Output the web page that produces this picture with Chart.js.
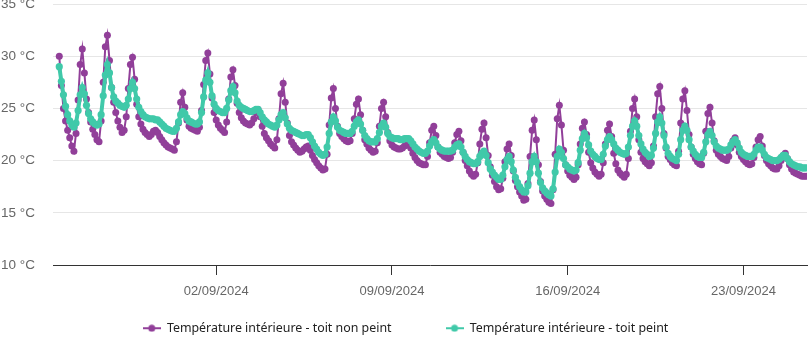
<!DOCTYPE html>
<html lang="fr">
<head>
<meta charset="utf-8">
<title>Températures intérieures</title>
<script src="https://cdn.jsdelivr.net/npm/chart.js@4"></script>
<style>
  html, body { margin: 0; padding: 0; background: #fff; }
  #wrap { width: 811px; height: 343px; position: relative; }
</style>
</head>
<body>
<div id="wrap"><canvas id="chart"></canvas></div>
<script>
// Relevés toutes les 2 heures, à partir du 26/08/2024 à 18h
const debut = Date.UTC(2024, 7, 26, 18);
const pasHeures = 2;

const toitNonPeint = [
  // 26/08 (18h-22h)
  30.0, 27.2, 25.0,
  // 27/08
  23.8, 22.9, 22.2, 21.4, 20.9, 22.6, 25.8, 29.2, 30.7, 28.4, 25.9, 24.6,
  // 28/08
  23.7, 23.0, 22.5, 22.0, 21.8, 23.8, 27.5, 30.9, 32.0, 29.6, 27.0, 25.6,
  // 29/08
  24.6, 23.8, 23.2, 22.7, 22.9, 24.2, 26.9, 29.2, 29.9, 27.8, 25.4, 24.2,
  // 30/08
  23.5, 23.0, 22.7, 22.5, 22.3, 22.5, 22.8, 22.9, 22.7, 22.3, 22.0, 21.7,
  // 31/08
  21.5, 21.3, 21.2, 21.1, 21.0, 21.8, 23.6, 25.6, 26.5, 25.1, 23.9, 23.3,
  // 01/09
  23.1, 23.0, 22.9, 22.8, 23.2, 24.8, 27.3, 29.6, 30.3, 28.3, 26.0, 24.6,
  // 02/09
  23.9, 23.4, 23.1, 22.9, 22.7, 23.7, 25.9, 28.0, 28.7, 27.2, 25.5, 24.6,
  // 03/09
  24.1, 23.8, 23.6, 23.5, 23.4, 23.6, 24.0, 24.6, 24.9, 24.2, 23.3, 22.6,
  // 04/09
  22.2, 21.9, 21.6, 21.4, 21.2, 22.0, 24.0, 26.4, 27.4, 25.6, 23.6, 22.4,
  // 05/09
  21.8, 21.5, 21.2, 21.0, 20.8, 20.9, 21.1, 21.3, 21.4, 21.0, 20.5, 20.1,
  // 06/09
  19.8, 19.5, 19.3, 19.1, 19.2, 20.6, 23.4, 26.0, 26.9, 25.0, 23.3, 22.6,
  // 07/09
  22.3, 22.1, 21.9, 21.8, 21.9, 22.6, 24.0, 25.4, 25.9, 24.4, 22.9, 22.0,
  // 08/09
  21.6, 21.2, 21.0, 20.8, 20.9, 21.7, 23.3, 25.0, 25.6, 24.2, 22.7, 21.9,
  // 09/09
  21.5, 21.3, 21.2, 21.1, 21.1, 21.2, 21.4, 21.5, 21.5, 21.2, 20.7, 20.3,
  // 10/09
  20.0, 19.8, 19.7, 19.6, 19.6, 20.4, 21.7, 22.9, 23.3, 22.4, 21.3, 20.8,
  // 11/09
  20.6, 20.4, 20.3, 20.2, 20.3, 20.8, 21.7, 22.5, 22.8, 21.9, 20.8, 20.0,
  // 12/09
  19.5, 19.0, 18.7, 18.5, 18.7, 19.8, 21.6, 23.0, 23.6, 22.2, 20.5, 19.4,
  // 13/09
  18.6, 18.0, 17.5, 17.2, 17.3, 18.3, 19.9, 21.1, 21.6, 20.5, 19.0, 18.1,
  // 14/09
  17.5, 17.0, 16.6, 16.2, 16.3, 17.8, 20.4, 22.9, 23.9, 22.0, 19.6, 18.0,
  // 15/09
  17.1, 16.6, 16.3, 16.0, 15.9, 17.2, 20.6, 24.0, 25.3, 23.4, 21.0, 19.6,
  // 16/09
  19.0, 18.6, 18.4, 18.2, 18.4, 19.6, 21.6, 23.1, 23.7, 22.5, 20.8, 19.8,
  // 17/09
  19.3, 18.9, 18.7, 18.5, 18.7, 19.8, 21.6, 22.9, 23.5, 22.3, 20.7, 19.7,
  // 18/09
  19.1, 18.8, 18.6, 18.4, 18.7, 20.2, 22.8, 25.0, 25.9, 24.2, 22.0, 20.8,
  // 19/09
  20.2, 19.9, 19.7, 19.5, 19.8, 21.4, 24.2, 26.4, 27.1, 25.0, 22.6, 21.2,
  // 20/09
  20.4, 20.1, 19.8, 19.6, 19.5, 20.9, 23.6, 25.9, 26.7, 24.8, 22.5, 21.3,
  // 21/09
  20.6, 20.2, 19.9, 19.7, 19.6, 20.7, 22.8, 24.5, 25.1, 23.6, 21.9, 21.0,
  // 22/09
  20.6, 20.4, 20.2, 20.1, 20.0, 20.4, 21.2, 21.9, 22.2, 21.5, 20.8, 20.4,
  // 23/09
  20.1, 19.9, 19.7, 19.6, 19.7, 20.3, 21.3, 22.0, 22.3, 21.4, 20.5, 20.0,
  // 24/09
  19.7, 19.5, 19.3, 19.2, 19.2, 19.5, 20.0, 20.5, 20.7, 20.2, 19.6, 19.2,
  // 25/09 (0h-12h)
  18.9, 18.8, 18.7, 18.6, 18.5, 18.5, 18.5
];

const toitPeint = [
  // 26/08 (18h-22h)
  29.0, 27.6, 26.3,
  // 27/08
  25.2, 24.4, 23.8, 23.4, 23.2, 23.6, 24.8, 26.3, 27.0, 26.4, 25.3, 24.5,
  // 28/08
  24.0, 23.7, 23.5, 23.4, 23.5, 24.4, 26.2, 28.2, 29.2, 28.4, 27.0, 26.1,
  // 29/08
  25.7, 25.5, 25.3, 25.2, 25.1, 25.3, 25.9, 26.9, 27.5, 26.9, 25.9, 25.1,
  // 30/08
  24.7, 24.4, 24.2, 24.1, 24.0, 24.0, 24.0, 23.9, 23.9, 23.7, 23.5, 23.3,
  // 31/08
  23.1, 23.0, 22.9, 22.8, 22.8, 23.1, 23.7, 24.4, 24.7, 24.5, 24.1, 23.8,
  // 01/09
  23.7, 23.6, 23.5, 23.5, 23.7, 24.6, 26.1, 27.7, 28.4, 27.5, 26.2, 25.4,
  // 02/09
  25.0, 24.8, 24.7, 24.6, 24.6, 25.0, 25.8, 26.7, 27.1, 26.5, 25.7, 25.3,
  // 03/09
  25.1, 25.0, 24.9, 24.8, 24.7, 24.7, 24.8, 24.9, 24.9, 24.6, 24.2, 23.9,
  // 04/09
  23.7, 23.5, 23.4, 23.3, 23.2, 23.4, 23.9, 24.4, 24.6, 24.1, 23.5, 23.1,
  // 05/09
  22.9, 22.8, 22.7, 22.6, 22.5, 22.4, 22.4, 22.5, 22.5, 22.2, 21.8, 21.4,
  // 06/09
  21.1, 20.8, 20.6, 20.5, 20.6, 21.3, 22.6, 23.7, 24.2, 23.8, 23.2, 22.9,
  // 07/09
  22.8, 22.7, 22.6, 22.6, 22.6, 22.8, 23.3, 23.7, 23.9, 23.5, 22.9, 22.4,
  // 08/09
  22.1, 21.9, 21.8, 21.8, 21.8, 22.1, 22.7, 23.3, 23.6, 23.2, 22.6, 22.3,
  // 09/09
  22.2, 22.1, 22.1, 22.1, 22.0, 22.0, 22.1, 22.1, 22.1, 21.9, 21.6, 21.3,
  // 10/09
  21.1, 20.9, 20.8, 20.7, 20.7, 20.9, 21.4, 21.8, 22.0, 21.7, 21.3, 21.1,
  // 11/09
  21.0, 20.9, 20.9, 20.9, 20.9, 21.0, 21.3, 21.5, 21.6, 21.3, 20.8, 20.4,
  // 12/09
  20.1, 19.9, 19.8, 19.7, 19.7, 19.9, 20.4, 20.7, 20.9, 20.5, 19.8, 19.2,
  // 13/09
  18.9, 18.6, 18.4, 18.2, 18.2, 18.6, 19.4, 20.1, 20.4, 19.9, 19.1, 18.4,
  // 14/09
  17.9, 17.5, 17.2, 17.0, 17.0, 17.6, 18.8, 19.9, 20.4, 19.9, 18.8, 17.9,
  // 15/09
  17.4, 17.1, 16.9, 16.7, 16.6, 17.3, 18.9, 20.4, 21.1, 20.8, 20.2, 19.6,
  // 16/09
  19.4, 19.2, 19.1, 19.0, 19.1, 19.8, 21.0, 22.1, 22.6, 22.2, 21.5, 20.9,
  // 17/09
  20.6, 20.4, 20.2, 20.1, 20.1, 20.6, 21.4, 22.0, 22.3, 22.0, 21.6, 21.2,
  // 18/09
  21.0, 20.8, 20.7, 20.6, 20.7, 21.3, 22.4, 23.3, 23.8, 23.3, 22.4, 21.6,
  // 19/09
  21.1, 20.8, 20.6, 20.4, 20.5, 21.2, 22.6, 23.7, 24.2, 23.6, 22.4, 21.3,
  // 20/09
  20.7, 20.4, 20.2, 20.1, 20.0, 20.6, 22.0, 22.9, 23.3, 22.9, 22.0, 21.3,
  // 21/09
  20.9, 20.6, 20.4, 20.3, 20.3, 20.8, 21.8, 22.5, 22.8, 22.4, 21.8, 21.4,
  // 22/09
  21.2, 21.1, 21.0, 21.0, 21.0, 21.1, 21.5, 21.8, 22.0, 21.7, 21.2, 20.8,
  // 23/09
  20.6, 20.5, 20.4, 20.4, 20.4, 20.6, 21.0, 21.3, 21.3, 21.0, 20.6, 20.3,
  // 24/09
  20.2, 20.1, 20.0, 20.0, 20.0, 20.1, 20.3, 20.5, 20.5, 20.2, 19.9, 19.7,
  // 25/09 (0h-12h)
  19.6, 19.5, 19.4, 19.4, 19.3, 19.3, 19.3
];

const datesGraduations = ['2024-09-02', '2024-09-09', '2024-09-16', '2024-09-23'];
const graduationsY = [10, 15, 20, 25, 30, 35];

const violet = '#913f99';
const turquoise = '#40c9a9';

function enPoints(valeurs) {
  return valeurs.map((v, i) => ({ x: debut + i * pasHeures * 3600000, y: v }));
}

function formatDate(ms) {
  const d = new Date(ms);
  const jj = String(d.getUTCDate()).padStart(2, '0');
  const mm = String(d.getUTCMonth() + 1).padStart(2, '0');
  return jj + '/' + mm + '/' + d.getUTCFullYear();
}

// petit symbole trait + rond pour la légende
function marqueur(couleur) {
  const c = document.createElement('canvas');
  c.width = 18;
  c.height = 8;
  const g = c.getContext('2d');
  g.strokeStyle = couleur;
  g.lineWidth = 2;
  g.beginPath();
  g.moveTo(0, 4);
  g.lineTo(18, 4);
  g.stroke();
  g.fillStyle = couleur;
  g.beginPath();
  g.arc(9, 4, 3.5, 0, Math.PI * 2);
  g.fill();
  return c;
}

// la légende garde un grand écart entre les deux entrées,
// mais sa ligne reste collée au bas du canvas
const legendeEnBas = {
  id: 'legendeEnBas',
  afterLayout(chart) {
    const lg = chart.legend;
    lg.top = chart.height - 21 - lg.options.labels.padding;
  }
};

Chart.defaults.font.family = '"Liberation Sans", Arial, sans-serif';
Chart.defaults.color = '#666';

new Chart(document.getElementById('chart'), {
  type: 'line',
  data: {
    datasets: [
      {
        label: 'Température intérieure - toit non peint',
        data: enPoints(toitNonPeint),
        borderColor: violet,
        backgroundColor: violet,
        borderWidth: 2,
        pointRadius: 3.5,
        pointBorderWidth: 0,
        order: 1
      },
      {
        label: 'Température intérieure - toit peint',
        data: enPoints(toitPeint),
        borderColor: turquoise,
        backgroundColor: turquoise,
        borderWidth: 4,
        pointRadius: 3.6,
        pointBorderWidth: 0,
        order: 0
      }
    ]
  },
  plugins: [legendeEnBas],
  options: {
    responsive: true,
    maintainAspectRatio: false,
    animation: false,
    layout: { padding: 0 },
    scales: {
      x: {
        type: 'linear',
        min: Date.UTC(2024, 7, 26, 12),
        max: Date.UTC(2024, 8, 25, 12, 45),
        afterBuildTicks: scale => {
          scale.ticks = datesGraduations.map(d => ({ value: Date.parse(d + 'T00:00:00Z') }));
        },
        afterFit: scale => {
          scale.height = 46;
          scale.paddingLeft = 0;
          scale.paddingRight = 0;
        },
        grid: {
          drawOnChartArea: false,
          drawTicks: true,
          tickLength: 10,
          color: '#333'
        },
        border: { color: '#333', width: 1 },
        ticks: {
          padding: 9,
          maxRotation: 0,
          autoSkip: false,
          font: { size: 13 },
          color: '#666',
          callback: v => formatDate(v)
        }
      },
      y: {
        min: 10,
        max: 35,
        afterBuildTicks: scale => {
          scale.ticks = graduationsY.map(v => ({ value: v }));
        },
        afterFit: scale => {
          scale.width = 53;
          scale.paddingTop = 4;
          scale.paddingBottom = 0;
        },
        grid: { color: '#e6e6e6', drawTicks: false },
        border: { display: false },
        ticks: {
          padding: 18,
          font: { size: 13.5 },
          color: '#666',
          callback: v => v + ' °C'
        }
      }
    },
    plugins: {
      tooltip: { enabled: false },
      legend: {
        position: 'bottom',
        maxHeight: 32,
        labels: {
          padding: 54,
          usePointStyle: true,
          pointStyleWidth: 18,
          color: '#222',
          font: { family: '"Noto Sans", sans-serif', size: 12.4 },
          generateLabels: chart => chart.data.datasets.map((ds, i) => ({
            text: ds.label,
            datasetIndex: i,
            pointStyle: marqueur(ds.borderColor),
            fillStyle: ds.borderColor,
            strokeStyle: ds.borderColor,
            lineWidth: 0,
            fontColor: '#222',
            hidden: !chart.isDatasetVisible(i)
          }))
        }
      }
    }
  }
});
</script>
</body>
</html>
